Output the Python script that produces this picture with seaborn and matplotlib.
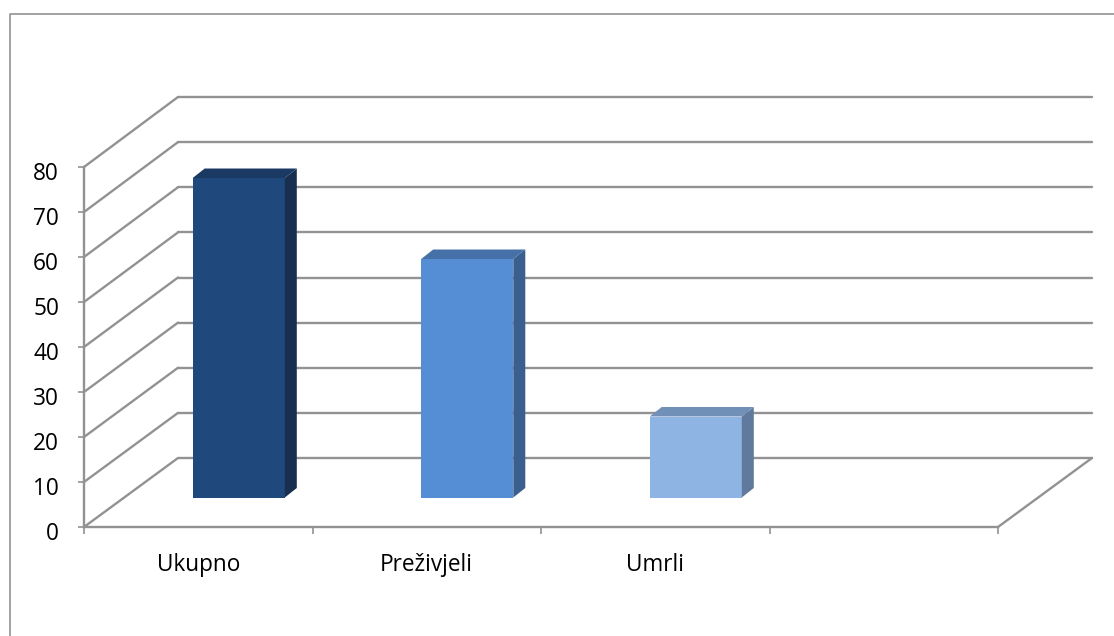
import matplotlib
matplotlib.use("Agg")
import matplotlib.pyplot as plt
from matplotlib.lines import Line2D
from matplotlib.patches import ConnectionPatch, Polygon
from matplotlib.transforms import ScaledTranslation
import seaborn as sns

categories = ['Ukupno', 'Preživjeli', 'Umrli']
values = [71, 53, 18]
y_ticks = [0, 10, 20, 30, 40, 50, 60, 70, 80]

front_colors = ['#1F497D', '#558ED5', '#8EB4E3']
side_colors = ['#182F50', '#3A5F8F', '#5F7A9C']
top_colors = ['#1B3A63', '#4570A8', '#7090B8']
GREY = '#929292'

W, H = 1114, 636
sns.set_theme(style='white')
plt.rcParams['font.family'] = ['Open Sans', 'DejaVu Sans']

fig = plt.figure(figsize=(W / 100, H / 100), dpi=100, facecolor='white')


def axes_px(left, top, right, bottom):
    # axes placed by its pixel box, measured from the top left of the image
    ax = fig.add_axes([left / W, 1 - bottom / H, (right - left) / W, (bottom - top) / H])
    ax.patch.set_alpha(0)
    ax.set_xlim(-0.5, 3.5)
    ax.set_ylim(0, 80)
    return ax


# back wall, shifted up and right from the front plane
ax_wall = axes_px(178, 97, 1092, 458)
ax_wall.set_yticks(y_ticks)
ax_wall.set_xticks([])
ax_wall.grid(axis='y', color=GREY, linewidth=1.7)
for line in ax_wall.get_ygridlines():
    line.set_clip_on(False)
ax_wall.tick_params(labelleft=False, left=False)
sns.despine(ax=ax_wall, left=True, bottom=True)

# front plane carries the axis lines and labels
ax = axes_px(84, 167, 998, 527)
ax.set_yticks(y_ticks)
ax.set_xticks([0, 1, 2])
ax.set_xticklabels(categories)
ax.set_xticks([-0.5, 0.5, 1.5, 2.5, 3.5], minor=True)
ax.tick_params(axis='y', left=True, length=4, width=1.2, color=GREY, labelsize=16.3, pad=14, labelcolor='black')
ax.tick_params(axis='x', which='minor', bottom=True, length=5, width=1.2, color=GREY)
ax.tick_params(axis='x', which='major', bottom=False, labelsize=16.3, pad=12.5, labelcolor='black')
# value labels sit a little below their ticks
for label in ax.get_yticklabels():
    label.set_transform(label.get_transform() + ScaledTranslation(0, -0.04, fig.dpi_scale_trans))
sns.despine(ax=ax)
ax.spines['left'].set_color(GREY)
ax.spines['bottom'].set_color(GREY)
ax.spines['left'].set_linewidth(1.7)
ax.spines['bottom'].set_linewidth(1.7)

# floor and wall diagonals
for tick in y_ticks:
    fig.add_artist(ConnectionPatch((-0.5, tick), (-0.5, tick), 'data', 'data', axesA=ax, axesB=ax_wall,
                                   color=GREY, linewidth=1.7))
fig.add_artist(ConnectionPatch((3.5, 0), (3.5, 0), 'data', 'data', axesA=ax, axesB=ax_wall,
                               color=GREY, linewidth=1.7))

# bars stand in the middle of the floor
ax_bars = axes_px(124.5, 137.5, 1038.5, 497.5)
sns.barplot(x=categories, y=values, hue=categories, palette=front_colors, saturation=1, width=0.403,
            linewidth=0, legend=False, ax=ax_bars)
ax_bars.set_xlim(-0.5, 3.5)
ax_bars.set_ylim(0, 80)
ax_bars.axis('off')

depth_x = 12 / 228.5
depth_y = 9.5 / 4.5
for bar, side, top in zip(list(ax_bars.patches), side_colors, top_colors):
    x0, x1 = bar.get_x(), bar.get_x() + bar.get_width()
    h = bar.get_height()
    ax_bars.add_patch(Polygon([(x1, 0), (x1 + depth_x, depth_y), (x1 + depth_x, h + depth_y), (x1, h)],
                              facecolor=side, edgecolor='none', clip_on=False))
    ax_bars.add_patch(Polygon([(x0, h), (x0 + depth_x, h + depth_y), (x1 + depth_x, h + depth_y), (x1, h)],
                              facecolor=top, edgecolor='none', clip_on=False))

# chart border, cut by the image edge on the right and bottom
fig.add_artist(Line2D([9.5 / W, 9.5 / W, 1], [0, 1 - 14 / H, 1 - 14 / H], color=GREY, linewidth=1.2))

fig.savefig('out.png', dpi=100)
